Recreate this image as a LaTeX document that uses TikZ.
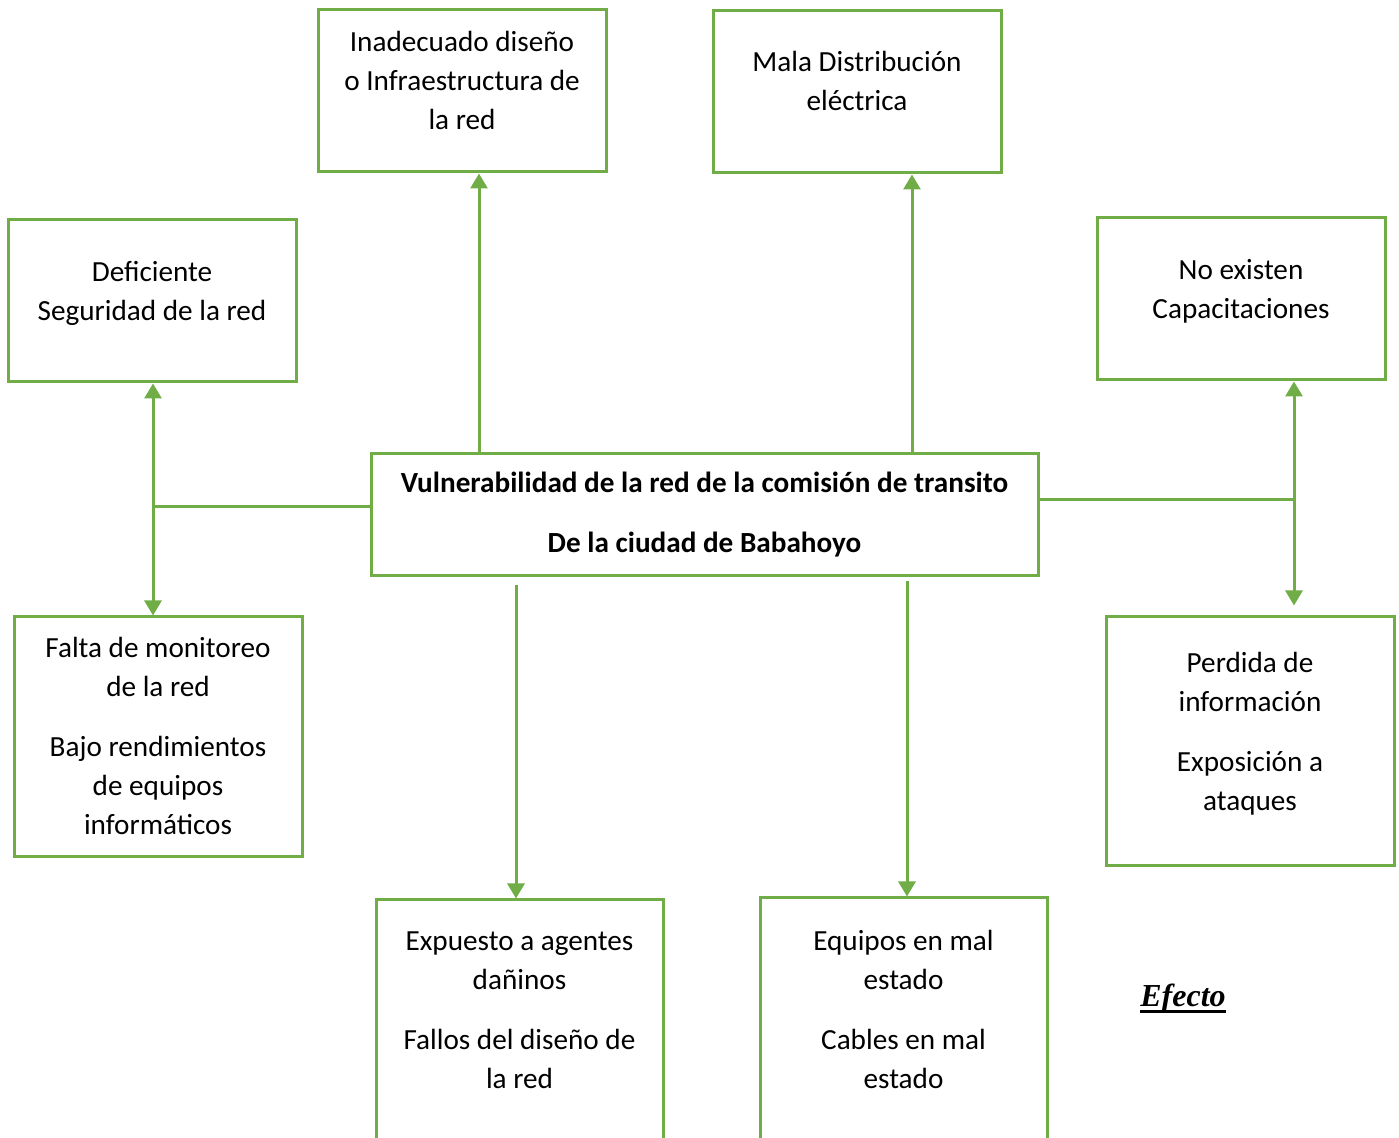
\documentclass[tikz,border=0pt]{standalone}
\usepackage{fontspec}
\setmainfont{Carlito}
\newfontfamily\efectofont{Liberation Serif}
\newcommand{\subraya}[1]{\setbox0\hbox{#1}\rlap{\rule[-3.2pt]{\wd0}{1.6pt}}\box0}
\usetikzlibrary{arrows.meta, positioning}
\definecolor{verde}{RGB}{112,173,71}

\begin{document}
\begin{tikzpicture}[x=0.5pt, y=-0.5pt,
   box/.style={draw=verde, line width=1.5pt, minimum width=144pt, minimum height=81pt,
     align=center, inner sep=0pt, font=\fontsize{14.6}{19.5}\selectfont},
   lin/.style={draw=verde, line width=1.5pt},
   arr/.style={lin, -{Triangle[width=8.5pt,length=7.5pt]}}]
   \useasboundingbox (0,0) rectangle (1399,1138);

   \node[box, text depth=11pt] (inad) at (462,91) {Inadecuado diseño\\o Infraestructura de\\la red};
   \node[box, text depth=11pt] (mala) at (857,92) {Mala Distribución\\eléctrica};
   \node[box, text depth=10.5pt] (defi) at (152,301) {Deficiente\\Seguridad de la red};
   \node[box, text depth=10.5pt] (noex) at (1241,299) {No existen\\Capacitaciones};
   \node[box, minimum width=333.5pt, minimum height=61pt, font=\fontsize{14.6}{19.5}\selectfont\bfseries] (vuln) at (704.5,515)
      {Vulnerabilidad de la red de la comisión de transito\\[10.5pt]De la ciudad de Babahoyo};
   \node[box, minimum height=120pt, text depth=1pt] (falta) at (158,737)
      {Falta de monitoreo\\de la red\\[10.5pt]Bajo rendimientos\\de equipos\\informáticos};
   \node[box, minimum height=124.5pt, text depth=10pt] (perd) at (1250,741.5)
      {Perdida de\\información\\[10.5pt]Exposición a\\ataques};
   \node[box, minimum width=143.5pt, minimum height=125pt, text depth=15pt] (expu) at (519.5,1025)
      {Expuesto a agentes\\dañinos\\[10.5pt]Fallos del diseño de\\la red};
   \node[box, minimum width=143.5pt, minimum height=125pt, text depth=14pt] (equi) at (903.5,1023)
      {Equipos en mal\\estado\\[10.5pt]Cables en mal\\estado};
   \node[font={\fontsize{16}{19}\efectofont\bfseries\itshape}] (efecto) at (1183,999) {\subraya{Efecto}};

   % ramas
   \coordinate (jl) at (153,507);
   \coordinate (jr) at (1294,500);
   \coordinate (xa) at (479,0);
   \coordinate (xb) at (912,0);
   \coordinate (xc) at (516,0);
   \coordinate (xd) at (907,0);

   \draw[arr] (vuln.north -| xa) -- (inad.south -| xa);
   \draw[arr] (vuln.north -| xb) -- (mala.south -| xb);
   \draw[lin] (vuln.west |- jl) -- (jl);
   \draw[arr] (jl) -- (defi.south -| jl);
   \draw[arr] (jl) -- (falta.north -| jl);
   \draw[lin] (vuln.east |- jr) -- (jr);
   \draw[arr] (jr) -- (noex.south -| jr);
   \draw[arr, shorten >=5pt] (jr) -- (perd.north -| jr);
   \draw[arr, shorten <=4pt] (vuln.south -| xc) -- (expu.north -| xc);
   \draw[arr, shorten <=2pt] (vuln.south -| xd) -- (equi.north -| xd);
\end{tikzpicture}
\end{document}
